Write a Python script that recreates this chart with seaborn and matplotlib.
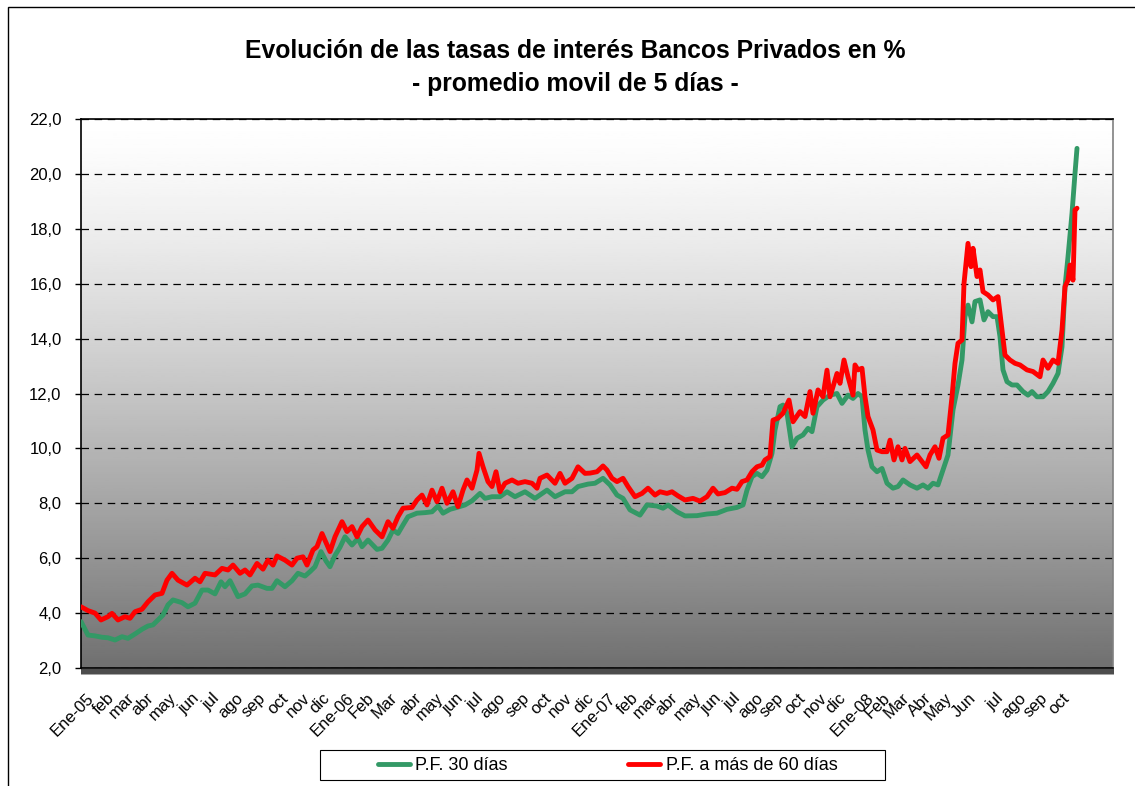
import numpy as np
import pandas as pd
import matplotlib
matplotlib.use("Agg")
import matplotlib.pyplot as plt
import seaborn as sns
from matplotlib.lines import Line2D
from matplotlib.patches import Rectangle

# Datos (dia habil desde Ene-05, tasa en %)
dias_30 = [0, 7, 14, 21, 27, 34, 41, 47, 54, 61, 67, 72, 77, 82, 87, 92, 101, 107, 114,
           121, 127, 134, 140, 144, 149, 157, 164, 171, 177, 186, 191, 196, 204, 211, 217,
           224, 229, 234, 240, 245, 249, 254, 259, 264, 271, 277, 281, 287, 296, 301, 307,
           312, 317, 322, 327, 336, 344, 351, 357, 362, 369, 376, 384, 391, 399, 404, 411,
           419, 426, 434, 444, 454, 466, 474, 484, 491, 497, 507, 514, 522, 529, 536, 542,
           549, 559, 566, 576, 582, 587, 596, 604, 616, 626, 636, 646, 656, 662, 666, 671,
           676, 681, 686, 691, 694, 699, 702, 706, 711, 716, 722, 727, 731, 736, 742, 749,
           756, 761, 767, 772, 777, 781, 784, 787, 791, 796, 801, 806, 812, 817, 822, 829,
           836, 842, 847, 852, 857, 862, 867, 872, 877, 881, 884, 887, 891, 894, 899, 903,
           907, 912, 916, 919, 922, 926, 931, 936, 942, 947, 951, 956, 962, 967, 972, 977,
           981, 984, 987, 991, 994, 996]
tasa_30 = [3.69, 3.20, 3.17, 3.12, 3.10, 3.02, 3.14, 3.08, 3.24, 3.41, 3.53, 3.57, 3.75,
           3.93, 4.30, 4.48, 4.38, 4.23, 4.36, 4.84, 4.84, 4.70, 5.14, 4.96, 5.18, 4.60,
           4.70, 4.99, 5.02, 4.90, 4.90, 5.18, 4.96, 5.18, 5.45, 5.35, 5.51, 5.69, 6.24,
           5.90, 5.69, 6.10, 6.40, 6.78, 6.48, 6.72, 6.42, 6.66, 6.32, 6.36, 6.66, 7.03,
           6.90, 7.21, 7.51, 7.64, 7.66, 7.69, 7.90, 7.64, 7.78, 7.85, 7.94, 8.09, 8.36,
           8.18, 8.24, 8.24, 8.42, 8.24, 8.42, 8.18, 8.48, 8.24, 8.42, 8.42, 8.61, 8.70,
           8.73, 8.91, 8.67, 8.30, 8.18, 7.76, 7.57, 7.94, 7.90, 7.82, 7.94, 7.69, 7.54,
           7.55, 7.61, 7.64, 7.78, 7.85, 7.94, 8.48, 8.97, 9.09, 8.97, 9.21, 9.82, 10.67,
           11.52, 11.58, 11.28, 10.06, 10.37, 10.49, 10.73, 10.61, 11.52, 11.76, 11.94,
           12.00, 11.64, 11.94, 11.82, 12.00, 11.88, 10.67, 9.94, 9.33, 9.15, 9.27, 8.73,
           8.55, 8.61, 8.85, 8.67, 8.55, 8.67, 8.55, 8.73, 8.67, 9.21, 9.76, 11.40, 12.31,
           13.22, 14.80, 15.22, 14.61, 15.35, 15.41, 14.68, 14.98, 14.80, 14.80, 14.07,
           12.86, 12.43, 12.31, 12.31, 12.07, 11.94, 12.07, 11.88, 11.88, 12.07, 12.37,
           12.73, 13.70, 15.89, 16.98, 18.56, 20.02, 20.93]

dias_60 = [0, 7, 14, 20, 27, 31, 37, 44, 49, 54, 61, 67, 74, 81, 86, 91, 97, 106, 114,
           119, 124, 134, 141, 147, 152, 159, 164, 169, 176, 182, 187, 192, 196, 204, 211,
           216, 222, 226, 232, 236, 241, 249, 254, 261, 266, 271, 276, 281, 287, 294, 301,
           307, 312, 317, 322, 331, 336, 341, 346, 351, 356, 361, 366, 372, 377, 382, 386,
           391, 396, 398, 402, 407, 411, 415, 419, 424, 431, 437, 444, 451, 456, 459, 466,
           474, 479, 484, 491, 497, 504, 509, 516, 522, 526, 531, 536, 542, 547, 554, 561,
           567, 574, 579, 586, 591, 597, 604, 612, 619, 626, 632, 637, 644, 651, 656, 661,
           666, 671, 676, 681, 684, 689, 692, 697, 702, 708, 712, 719, 724, 729, 732, 737,
           742, 746, 749, 756, 759, 763, 767, 772, 774, 777, 781, 784, 787, 792, 796, 801,
           806, 809, 813, 817, 821, 824, 829, 836, 841, 845, 849, 854, 858, 862, 867, 871,
           874, 877, 881, 883, 887, 890, 892, 896, 899, 902, 907, 912, 917, 921, 924, 929,
           934, 939, 946, 952, 959, 962, 967, 972, 977, 981, 984, 987, 989, 992, 994, 996]
tasa_60 = [4.23, 4.09, 4.00, 3.75, 3.87, 3.99, 3.75, 3.87, 3.81, 4.05, 4.14, 4.41, 4.66,
           4.72, 5.20, 5.45, 5.20, 5.02, 5.27, 5.14, 5.45, 5.39, 5.63, 5.57, 5.75, 5.45,
           5.57, 5.39, 5.81, 5.60, 5.93, 5.75, 6.08, 5.93, 5.75, 6.00, 6.05, 5.75, 6.30,
           6.42, 6.90, 6.24, 6.78, 7.33, 6.97, 7.15, 6.78, 7.15, 7.39, 7.03, 6.78, 7.33,
           7.09, 7.51, 7.82, 7.85, 8.12, 8.30, 7.94, 8.48, 8.06, 8.55, 8.00, 8.42, 7.88,
           8.48, 8.85, 8.55, 9.21, 9.82, 9.33, 8.79, 8.61, 9.15, 8.42, 8.73, 8.85, 8.73,
           8.79, 8.73, 8.55, 8.91, 9.03, 8.73, 9.09, 8.73, 8.91, 9.33, 9.09, 9.10, 9.15,
           9.36, 9.21, 8.91, 8.79, 8.91, 8.61, 8.24, 8.36, 8.55, 8.30, 8.42, 8.36, 8.42,
           8.27, 8.12, 8.18, 8.08, 8.24, 8.55, 8.34, 8.39, 8.55, 8.51, 8.79, 8.85, 9.15,
           9.33, 9.39, 9.58, 9.70, 11.03, 11.10, 11.28, 11.76, 10.97, 11.34, 11.16, 12.07,
           11.28, 12.13, 11.88, 12.85, 11.88, 12.73, 12.37, 13.22, 12.61, 11.94, 13.04,
           12.86, 12.92, 11.88, 11.16, 10.67, 9.94, 9.88, 9.88, 10.30, 9.58, 10.06, 9.58,
           10.00, 9.52, 9.76, 9.52, 9.33, 9.76, 10.06, 9.64, 10.37, 10.49, 11.88, 13.10,
           13.83, 13.95, 16.01, 17.47, 16.62, 17.29, 16.26, 16.50, 15.71, 15.59, 15.41,
           15.53, 14.31, 13.40, 13.22, 13.10, 13.04, 12.86, 12.80, 12.61, 13.22, 12.92,
           13.22, 13.10, 14.31, 15.89, 16.13, 16.68, 16.13, 18.69, 18.75]

pos_meses = [5, 26, 46, 65, 88, 111, 131, 155, 177, 200, 222, 241, 265, 285, 309, 333,
             355, 375, 395, 417, 441, 463, 484, 505, 527, 550, 570, 589, 613, 633, 652,
             675, 695, 717, 739, 757, 785, 801, 821, 843, 863, 887, 915, 938, 959, 981]
meses = ['Ene-05', 'feb', 'mar', 'abr', 'may', 'jun', 'jul', 'ago', 'sep', 'oct', 'nov',
         'dic', 'Ene-06', 'Feb', 'Mar', 'abr', 'may', 'jun', 'jul', 'ago', 'sep', 'oct',
         'nov', 'dic', 'Ene-07', 'feb', 'mar', 'abr', 'may', 'jun', 'jul', 'ago', 'sep',
         'oct', 'nov', 'dic', 'Ene-08', 'Feb', 'Mar', 'Abr', 'May', 'Jun', 'jul', 'ago',
         'sep', 'oct']
y_ticks = [2, 4, 6, 8, 10, 12, 14, 16, 18, 20, 22]

serie_30 = 'P.F. 30 días'
serie_60 = 'P.F. a más de 60 días'
colores = {serie_30: '#339966', serie_60: '#ff0000'}

sns.set_theme(style="white")
plt.rcParams['font.family'] = ['Liberation Sans', 'DejaVu Sans']
plt.rcParams['text.color'] = 'black'
plt.rcParams['xtick.color'] = 'black'
plt.rcParams['ytick.color'] = 'black'

df = pd.concat([
    pd.DataFrame({'dia': dias_30, 'tasa': tasa_30, 'serie': serie_30}),
    pd.DataFrame({'dia': dias_60, 'tasa': tasa_60, 'serie': serie_60}),
], ignore_index=True)

W, H = 1135, 786
fig = plt.figure(figsize=(W / 100, H / 100), dpi=100)
ax = fig.add_axes([81 / W, 1 - 668 / H, (1113 - 81) / W, (668 - 119) / H])

# fondo degradado del area de trazado
t = np.linspace(0, 1, 256)
sombra = 1 - 0.56 * t ** 1.3
ax.imshow(sombra[:, None], extent=[0, 1, 0, 1], transform=ax.transAxes,
          cmap='gray', vmin=0, vmax=1, aspect='auto', zorder=0)

sns.lineplot(data=df, x='dia', y='tasa', hue='serie', palette=colores,
             hue_order=[serie_30, serie_60], linewidth=3.5, estimator=None,
             legend=False, ax=ax, zorder=3)
for linea in ax.lines:
    linea.set_solid_joinstyle('round')
    linea.set_solid_capstyle('round')

ax.set_xlim(0, 1032)
ax.set_ylim(2, 22)
ax.set_xlabel('')
ax.set_ylabel('')

ax.set_yticks(y_ticks)
ax.set_yticklabels([f'{v:.1f}'.replace('.', ',') for v in y_ticks], fontsize=12)
ax.tick_params(axis='y', left=True, length=4, width=1, pad=10, color='black')

ax.set_xticks(pos_meses)
ax.set_xticklabels(meses, rotation=45, ha='right', rotation_mode='anchor', fontsize=12)
ax.set_xticks(np.arange(0, 1033), minor=True)
ax.tick_params(axis='x', which='major', bottom=True, length=4, width=0.5, pad=12, color='black')
ax.tick_params(axis='x', which='minor', bottom=True, length=4, width=0.5, color='black')

ax.yaxis.grid(True, linestyle=(0, (6, 4.5)), color='black', linewidth=0.9)
ax.set_axisbelow(True)

for lado in ['left', 'bottom', 'top']:
    ax.spines[lado].set_color('black')
    ax.spines[lado].set_linewidth(1.2)
ax.spines['right'].set_color('#808080')
ax.spines['right'].set_linewidth(1.2)

# titulo
fig.text(575 / W, 1 - 51 / H, 'Evolución de las tasas de interés Bancos Privados en %',
         ha='center', va='center', fontsize=17.8, fontweight='bold')
fig.text(575 / W, 1 - 84 / H, '- promedio movil de 5 días -',
         ha='center', va='center', fontsize=17.8, fontweight='bold')

# leyenda con marco propio
fig.add_artist(Rectangle((320 / W, 1 - 780 / H), 565 / W, 30 / H, transform=fig.transFigure,
                         fill=True, facecolor='white', edgecolor='black', linewidth=0.8))
handles = [Line2D([0], [0], color=colores[s], linewidth=3.5) for s in [serie_30, serie_60]]
fig.legend(handles, [serie_30, serie_60], loc='center left',
           bbox_to_anchor=(378 / W, 1 - 766 / H), ncol=2, frameon=False, fontsize=13,
           handlelength=1.75, handletextpad=0.3, columnspacing=6.7, borderpad=0,
           borderaxespad=0)

# marco exterior del grafico
fig.add_artist(Rectangle((8 / W, -0.1), 1.2, 1.1 - 7 / H, transform=fig.transFigure,
                         fill=False, edgecolor='black', linewidth=1))

fig.savefig('out.png', dpi=100)
